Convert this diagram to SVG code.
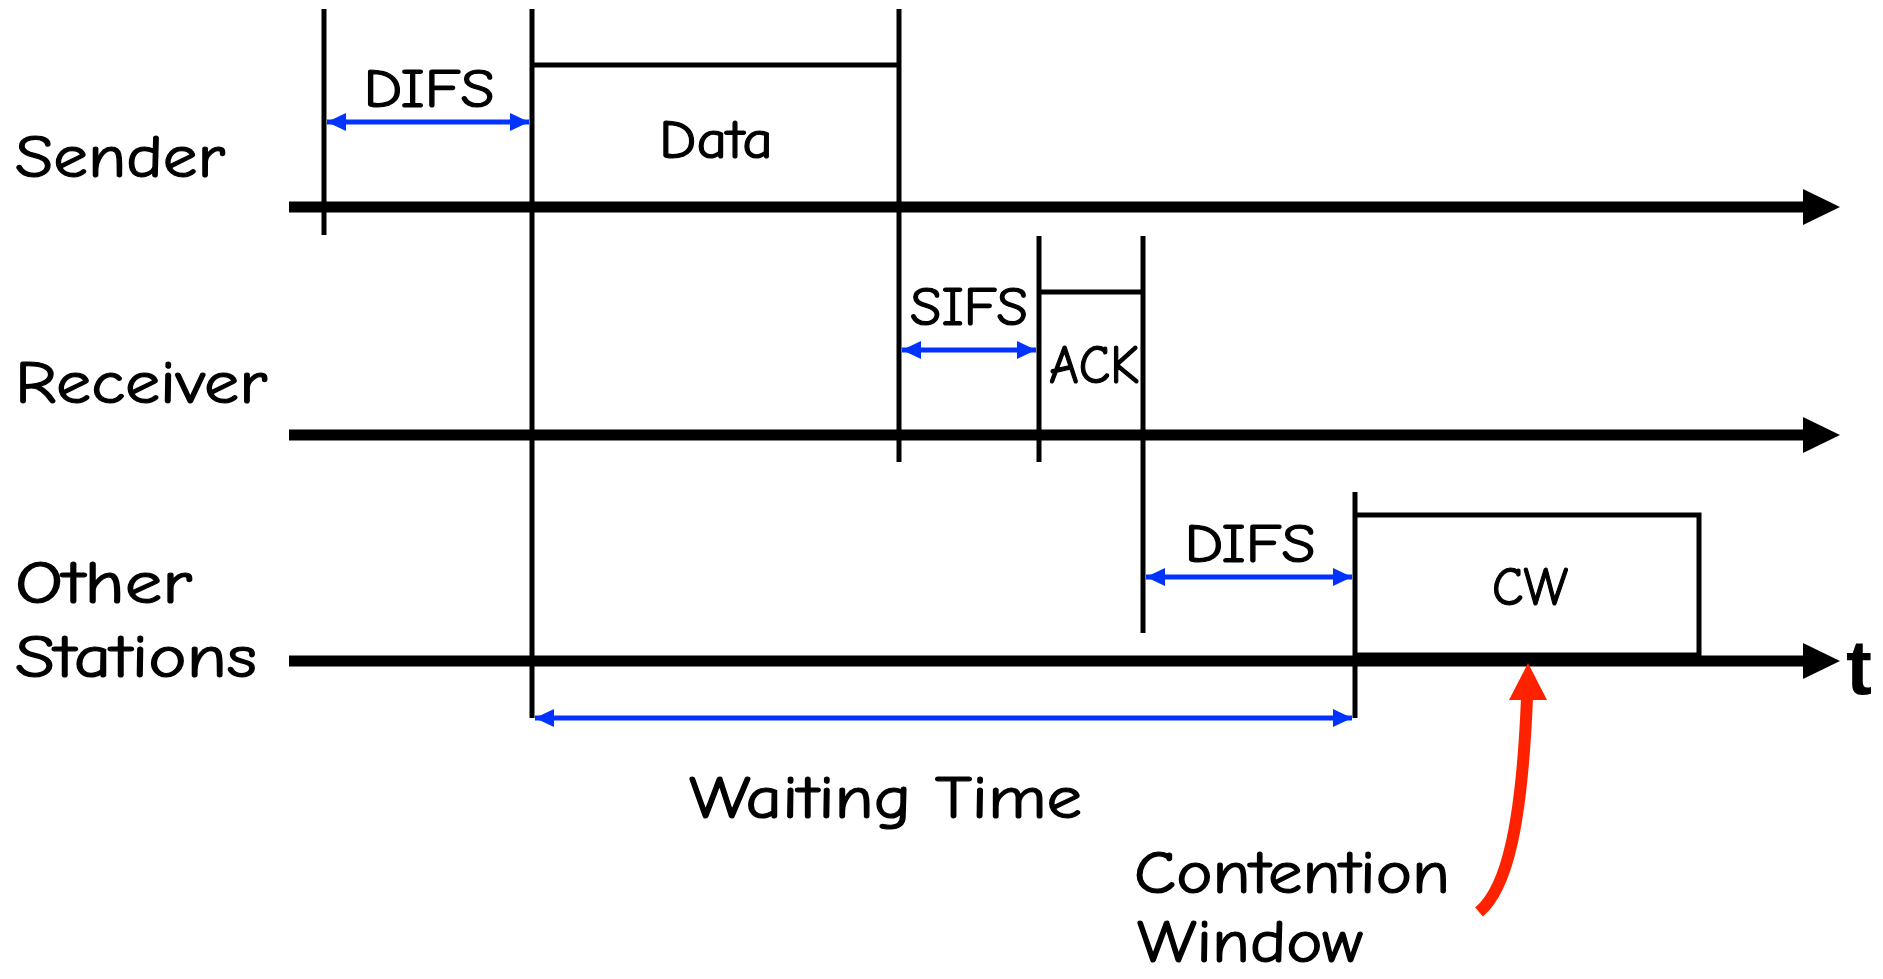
<svg xmlns="http://www.w3.org/2000/svg" width="1883" height="979" viewBox="0 0 1883 979">
<style>
.lbl{font-family:"Comic Sans MS","Comic Neue","DejaVu Sans","Noto Sans",sans-serif;fill:#000;stroke:#000;stroke-width:1.2;}
.big{font-size:60px;}
.mid{font-size:54px;}
.axis{stroke:#000;stroke-width:11;fill:none;}
.tick{stroke:#000;stroke-width:5;fill:none;}
.box{stroke:#000;stroke-width:5;fill:none;}
.dim{stroke:#0033ff;stroke-width:5;fill:none;}
</style>
<defs>
<marker id="bh" markerUnits="userSpaceOnUse" markerWidth="20" markerHeight="20" viewBox="0 0 20 20" refX="19" refY="10" orient="auto-start-reverse">
<path d="M0,1 L19,10 L0,19 Z" fill="#0033ff"/>
</marker>
</defs>

<g id="labels">
<text id="sender" class="lbl big" x="15" y="177" textLength="210" lengthAdjust="spacingAndGlyphs">Sender</text>
<text id="receiver" class="lbl big" x="15" y="403" textLength="252" lengthAdjust="spacingAndGlyphs">Receiver</text>
<text id="other" class="lbl big" x="15" y="603" textLength="177" lengthAdjust="spacingAndGlyphs">Other</text>
<text id="stations" class="lbl big" x="15" y="677" textLength="242" lengthAdjust="spacingAndGlyphs">Stations</text>
<text id="t" x="1846" y="694" font-family="Liberation Sans, Arial, sans-serif" font-weight="bold" font-size="78">t</text>
</g>

<g id="axes">
<line class="axis" x1="289" y1="207" x2="1805" y2="207"/>
<polygon points="1803,189 1840,207 1803,225" fill="#000"/>
<line class="axis" x1="289" y1="435" x2="1805" y2="435"/>
<polygon points="1803,417 1840,435 1803,453" fill="#000"/>
<line class="axis" x1="289" y1="661" x2="1805" y2="661"/>
<polygon points="1803,643 1840,661 1803,679" fill="#000"/>
</g>

<g id="ticks">
<line class="tick" x1="324" y1="9" x2="324" y2="235"/>
<line class="tick" x1="532" y1="9" x2="532" y2="718"/>
<line class="tick" x1="899" y1="9" x2="899" y2="462"/>
<line class="tick" x1="1039" y1="236" x2="1039" y2="462"/>
<line class="tick" x1="1143" y1="236" x2="1143" y2="633"/>
<line class="tick" x1="1355" y1="492" x2="1355" y2="718"/>
</g>

<g id="data">
<path class="box" d="M532,65 H899"/>
<text class="lbl mid" x="716" y="158" text-anchor="middle" textLength="114" lengthAdjust="spacingAndGlyphs">Data</text>
</g>

<g id="ack">
<path class="box" d="M1039,292 H1143"/>
<text class="lbl mid" x="1094" y="383" text-anchor="middle" textLength="90" lengthAdjust="spacingAndGlyphs">ACK</text>
</g>

<g id="cw">
<path class="box" d="M1355,515 H1699 V655 H1355"/>
<text class="lbl mid" x="1530" y="605" text-anchor="middle" textLength="76" lengthAdjust="spacingAndGlyphs">CW</text>
</g>

<g id="difs-sender">
<text class="lbl mid" x="429" y="107" text-anchor="middle" textLength="131" lengthAdjust="spacingAndGlyphs">DIFS</text>
</g>
<g id="sifs">
<text class="lbl mid" x="969" y="325" text-anchor="middle" textLength="118" lengthAdjust="spacingAndGlyphs">SIFS</text>
</g>
<g id="difs-other">
<text class="lbl mid" x="1250" y="562" text-anchor="middle" textLength="131" lengthAdjust="spacingAndGlyphs">DIFS</text>
</g>
<g id="waiting">
<text class="lbl big" x="689" y="818" textLength="393" lengthAdjust="spacingAndGlyphs">Waiting Time</text>
</g>
<g id="contention">
<text class="lbl big" x="1134" y="893" textLength="316" lengthAdjust="spacingAndGlyphs">Contention</text>
<text class="lbl big" x="1137" y="962" textLength="226" lengthAdjust="spacingAndGlyphs">Window</text>
</g>

<g id="connectors">
<line class="dim" x1="327" y1="122" x2="529" y2="122" marker-start="url(#bh)" marker-end="url(#bh)"/>
<line class="dim" x1="902" y1="350" x2="1036" y2="350" marker-start="url(#bh)" marker-end="url(#bh)"/>
<line class="dim" x1="1146" y1="577" x2="1352" y2="577" marker-start="url(#bh)" marker-end="url(#bh)"/>
<line class="dim" x1="535" y1="718" x2="1352" y2="718" marker-start="url(#bh)" marker-end="url(#bh)"/>
<path d="M1479,912 C1508,888 1522,820 1527,698" stroke="#ff2200" stroke-width="12" fill="none"/>
<polygon points="1509,700 1528,663 1547,700" fill="#ff2200"/>
</g>
</svg>
